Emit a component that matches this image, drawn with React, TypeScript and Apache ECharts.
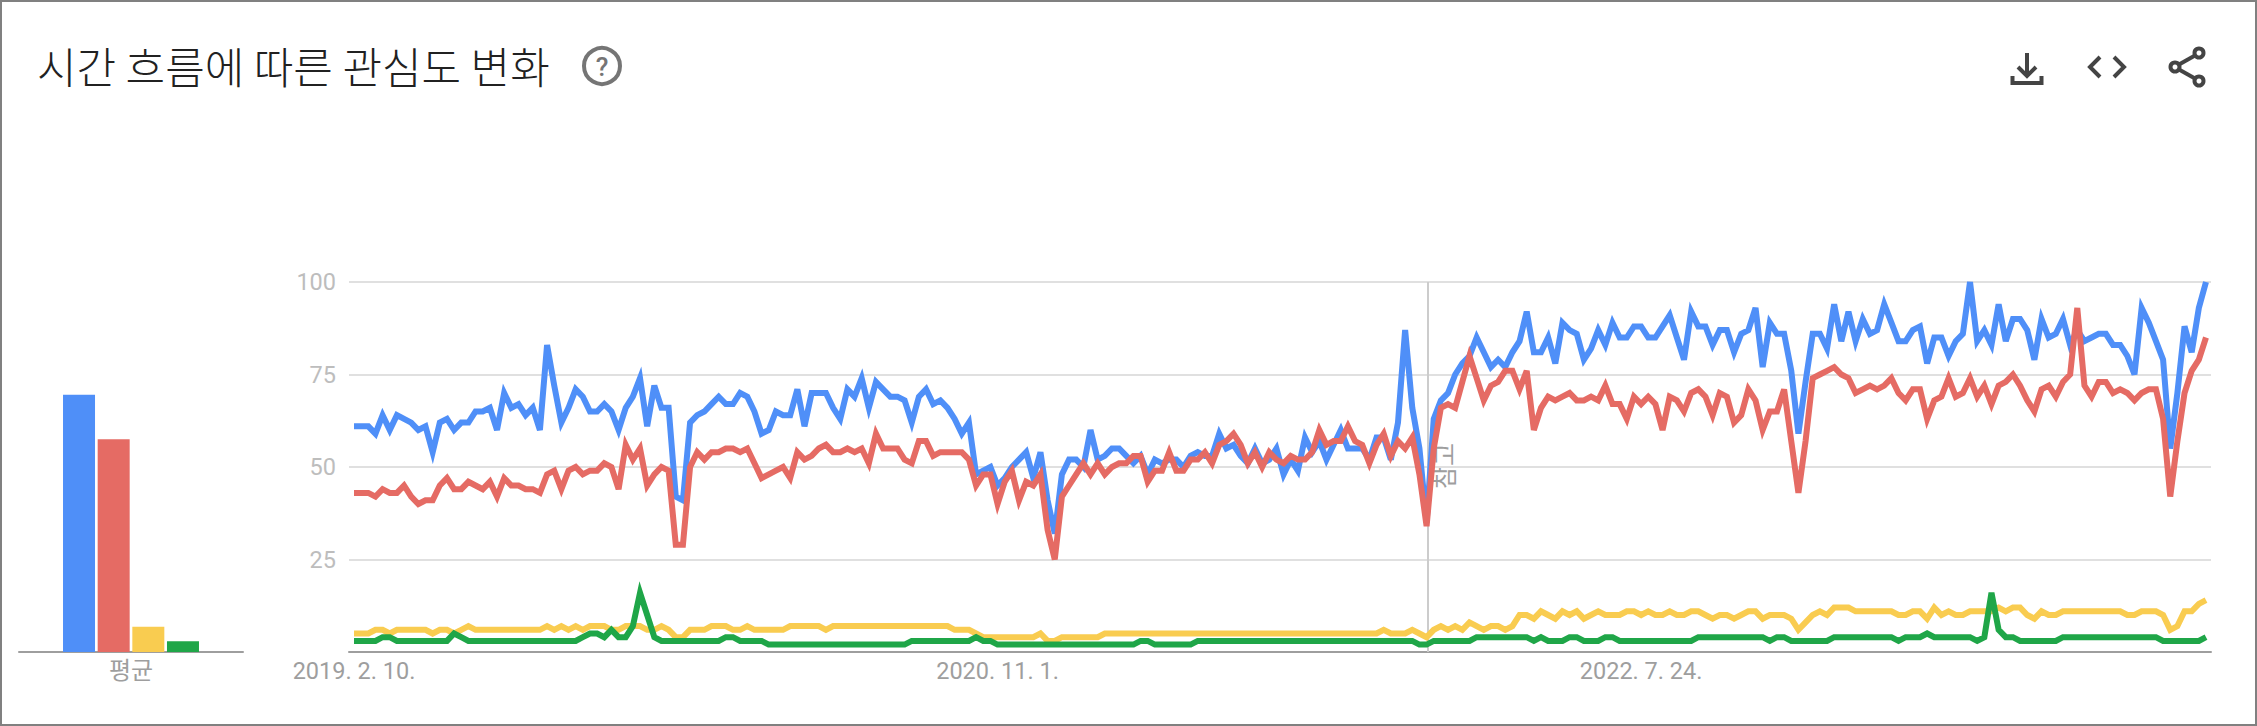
import React, { useEffect, useRef } from "react";
import * as echarts from "echarts";

const titleText = "시간 흐름에 따른 관심도 변화";
const noteText = "참고";
const averageCategory = ["평균"];
const xTickIndices = [0, 90, 180];
const xTickLabels = ["2019. 2. 10.", "2020. 11. 1.", "2022. 7. 24."];
const noteIndex = 150.15;

const seriesNames = ["A", "B", "C", "D"];
const colors = ["#4f8ff8", "#e56b64", "#f9cc50", "#1fa648"];
const averages = [69.5, 57.5, 6.8, 2.9];

const blue = [
  61,61,61,59,64,60,64,63,62,60, 61,54,62,63,60,62,62,65,65,66,
  60,70,66,67,64,66,60,83,72,62, 66,71,69,65,65,67,65,60,66,69,
  74,61,72,66,66,42,41,62,64,65, 67,69,67,67,70,69,65,59,60,65,
  64,64,71,61,70,70,70,66,63,71, 69,74,66,73,71,69,69,68,62,69,
  71,67,68,66,63,59,62,48,49,50, 45,47,50,52,54,47,54,41,32,48,
  52,52,50,60,52,53,55,55,53,51, 53,48,52,51,52,52,50,53,54,53,
  53,59,55,56,53,51,55,51,52,55, 48,52,49,58,54,57,52,56,60,55,
  55,55,52,58,58,52,62,87,66,55, 35,63,68,70,75,78,80,85,81,77,
  79,77,81,84,92,81,81,85,78,89, 87,86,79,82,87,83,89,85,85,88,
  88,85,85,88,91,85,79,92,88,88, 83,87,87,81,86,87,93,77,89,86,
  86,76,59,73,86,86,82,94,84,92, 84,90,86,87,94,89,84,84,87,88,
  78,85,85,80,84,86,100,84,87,83, 94,84,90,90,87,79,90,85,86,90,
  83,87,84,85,86,86,83,83,80,75, 93,89,84,79,55,70,88,81,93,100,
];
const red = [
  43,43,43,42,44,43,43,45,42,40, 41,41,45,47,44,44,46,45,44,46,
  42,47,45,45,44,44,43,48,49,44, 49,50,48,49,49,51,50,44,56,52,
  55,45,48,50,49,29,29,50,54,52, 54,54,55,55,54,55,51,47,48,49,
  50,47,54,52,53,55,56,54,54,55, 54,55,51,59,55,55,55,52,51,57,
  57,53,54,54,54,54,52,45,48,48, 40,46,49,41,46,45,48,33,25,42,
  45,48,51,48,51,48,50,51,51,53, 53,46,49,49,54,49,49,52,52,54,
  51,56,57,59,56,51,54,50,54,52, 51,53,52,52,54,60,56,57,57,61,
  57,56,51,56,59,53,57,55,58,48, 34,55,66,67,66,73,80,74,68,72,
  73,76,76,71,76,60,66,69,68,69, 70,68,68,69,68,72,67,67,63,69,
  67,69,67,60,69,68,65,70,71,69, 64,70,69,62,64,71,68,60,65,65,
  71,57,43,57,74,75,76,77,75,74, 70,71,72,71,72,74,70,68,71,71,
  63,68,69,74,69,70,74,69,72,67, 72,73,75,72,68,65,71,72,69,73,
  75,93,72,69,73,73,70,71,70,68, 70,71,71,63,42,57,70,76,79,85,
];
const yellow = [
  5,5,5,6,6,5,6,6,6,6, 6,5,6,6,5,6,7,6,6,6,
  6,6,6,6,6,6,6,7,6,7, 6,7,6,7,7,7,6,6,7,7,
  7,6,6,7,6,4,4,6,6,6, 7,7,7,6,6,7,6,6,6,6,
  6,7,7,7,7,7,6,7,7,7, 7,7,7,7,7,7,7,7,7,7,
  7,7,7,7,6,6,6,5,4,4, 4,4,4,4,4,4,5,3,3,4,
  4,4,4,4,4,5,5,5,5,5, 5,5,5,5,5,5,5,5,5,5,
  5,5,5,5,5,5,5,5,5,5, 5,5,5,5,5,5,5,5,5,5,
  5,5,5,5,6,5,5,5,6,5, 4,6,7,6,7,6,8,7,6,7,
  7,6,7,10,10,9,11,10,9,11, 10,11,9,10,11,10,10,10,11,11,
  10,11,10,10,11,10,10,11,11,10, 9,10,10,9,10,11,11,9,10,10,
  10,9,6,8,10,11,10,12,12,12, 11,11,11,11,11,11,10,10,11,11,
  9,12,10,11,10,10,11,11,11,11, 12,11,12,12,10,9,11,10,10,11,
  11,11,11,11,11,11,11,11,10,10, 11,11,11,10,6,7,11,11,13,14,
];
const green = [
  3,3,3,3,4,4,3,3,3,3, 3,3,3,3,5,4,3,3,3,3,
  3,3,3,3,3,3,3,3,3,3, 3,3,4,5,5,4,6,4,4,7,
  16,10,4,3,3,3,3,3,3,3, 3,3,4,4,3,3,3,3,2,2,
  2,2,2,2,2,2,2,2,2,2, 2,2,2,2,2,2,2,2,3,3,
  3,3,3,3,3,3,3,4,3,3, 2,2,2,2,2,2,2,2,2,2,
  2,2,2,2,2,2,2,2,2,2, 3,3,2,2,2,2,2,2,3,3,
  3,3,3,3,3,3,3,3,3,3, 3,3,3,3,3,3,3,3,3,3,
  3,3,3,3,3,3,3,3,3,2, 2,3,3,3,3,3,3,4,4,4,
  4,4,4,4,4,3,4,3,3,3, 4,4,3,3,3,4,4,3,3,3,
  3,3,3,3,3,3,3,3,4,4, 4,4,4,4,4,4,4,4,3,4,
  4,3,3,3,3,3,3,4,4,4, 4,4,4,4,4,4,3,4,4,4,
  5,4,4,4,4,4,4,3,4,16, 6,4,4,3,3,3,3,3,3,4,
  4,4,4,4,4,4,4,4,4,4, 4,4,4,3,3,3,3,3,3,4,
];
const lineValues = [blue, red, yellow, green];

const FONT = "Roboto, 'Noto Sans CJK KR', sans-serif";
const ICON = "#444444";

const stroke = (c = ICON, w = 4) => ({ stroke: c, lineWidth: w, fill: "none" });
const poly = (points: number[][]) => ({ type: "polyline", shape: { points }, style: stroke(), silent: true });

export default function App() {
  const ref = useRef<HTMLDivElement>(null);
  useEffect(() => {
    document.body.style.margin = "0";
    const chart = echarts.init(ref.current!, undefined, { renderer: "svg" });
    chart.setOption({
      animation: false,
      backgroundColor: "#ffffff",
      title: {
        text: titleText,
        left: 32,
        top: 38,
        textStyle: { fontFamily: "'Noto Sans CJK KR', sans-serif", fontSize: 43, fontWeight: 300, color: "#212121" },
      },
      grid: [
        { left: 349, top: 282, width: 1862, height: 370 },
        { left: 19, top: 282, width: 224, height: 370 },
      ],
      xAxis: [
        {
          type: "value",
          gridIndex: 0,
          min: -0.7,
          max: 259.7,
          splitLine: { show: false },
          axisTick: { show: false },
          axisLine: { show: true, lineStyle: { color: "#9e9e9e", width: 2 } },
          axisLabel: {
            customValues: xTickIndices,
            formatter: (v: number) => xTickLabels[xTickIndices.indexOf(v)] ?? "",
            color: "#9e9e9e",
            fontSize: 23.5,
            fontFamily: FONT,
            margin: 7,
            hideOverlap: false,
          },
        },
        {
          type: "category",
          gridIndex: 1,
          data: averageCategory,
          axisTick: { show: false },
          axisLine: { show: true, lineStyle: { color: "#9e9e9e", width: 2 } },
          axisLabel: { color: "#9e9e9e", fontSize: 24, fontFamily: FONT, margin: 7 },
        },
      ],
      yAxis: [
        {
          type: "value",
          gridIndex: 0,
          min: 0,
          max: 100,
          interval: 25,
          axisLine: { show: false },
          axisTick: { show: false },
          splitLine: { lineStyle: { color: "#e0e0e0", width: 2 } },
          axisLabel: {
            color: "#bdbdbd",
            fontSize: 23.5,
            fontFamily: FONT,
            margin: 13,
            showMinLabel: false,
          },
        },
        {
          type: "value",
          gridIndex: 1,
          min: 0,
          max: 100,
          show: false,
        },
      ],
      series: [
        ...lineValues.map((vals, k) => ({
          type: "line",
          name: seriesNames[k],
          xAxisIndex: 0,
          yAxisIndex: 0,
          data: vals.map((v, i) => [i, v]),
          showSymbol: false,
          smooth: false,
          silent: true,
          z: 3 + k,
          lineStyle: { color: colors[k], width: 6, join: "miter", miterLimit: 4, cap: "butt" },
          ...(k === 0
            ? {
                markLine: {
                  silent: true,
                  symbol: "none",
                  z: 2,
                  label: { show: false },
                  lineStyle: { color: "#cccccc", width: 2, type: "solid" },
                  data: [{ xAxis: noteIndex }],
                },
              }
            : {}),
        })),
        ...averages.map((v, k) => ({
          type: "bar",
          name: seriesNames[k],
          xAxisIndex: 1,
          yAxisIndex: 1,
          data: [v],
          barWidth: 32,
          barGap: "8.3%",
          silent: true,
          itemStyle: { color: colors[k] },
        })),
      ],
      graphic: [
        { type: "rect", shape: { x: 1, y: 1, width: 2255, height: 724 }, style: { stroke: "#808080", lineWidth: 2, fill: "none" }, silent: true },
        {
          type: "text",
          x: 1443,
          y: 466,
          rotation: Math.PI / 2,
          silent: true,
          style: { text: noteText, fill: "#9e9e9e", fontSize: 25, fontFamily: "'Noto Sans CJK KR', sans-serif", align: "center", verticalAlign: "middle" },
        },
        { type: "circle", shape: { cx: 602, cy: 66, r: 18 }, style: stroke("#757575", 4), silent: true },
        { type: "text", x: 602, y: 67, silent: true, style: { text: "?", fill: "#757575", fontSize: 26, fontWeight: 500, fontFamily: FONT, align: "center", verticalAlign: "middle" } },
        { type: "line", shape: { x1: 2027, y1: 53, x2: 2027, y2: 75 }, style: stroke(), silent: true },
        poly([[2018, 67], [2027, 76], [2036, 67]]),
        poly([[2012.5, 76], [2012.5, 83], [2041.5, 83], [2041.5, 76]]),
        poly([[2100, 57], [2090, 67], [2100, 77]]),
        poly([[2114, 57], [2124, 67], [2114, 77]]),
        { type: "line", shape: { x1: 2179, y1: 64.5, x2: 2195, y2: 55.5 }, style: stroke(), silent: true },
        { type: "line", shape: { x1: 2179, y1: 69.5, x2: 2195, y2: 78.5 }, style: stroke(), silent: true },
        { type: "circle", shape: { cx: 2199, cy: 53, r: 4.5 }, style: stroke(), silent: true },
        { type: "circle", shape: { cx: 2175, cy: 67, r: 4.5 }, style: stroke(), silent: true },
        { type: "circle", shape: { cx: 2199, cy: 81, r: 4.5 }, style: stroke(), silent: true },
      ],
    });
    return () => chart.dispose();
  }, []);
  return <div ref={ref} style={{ width: 2257, height: 726 }} />;
}
